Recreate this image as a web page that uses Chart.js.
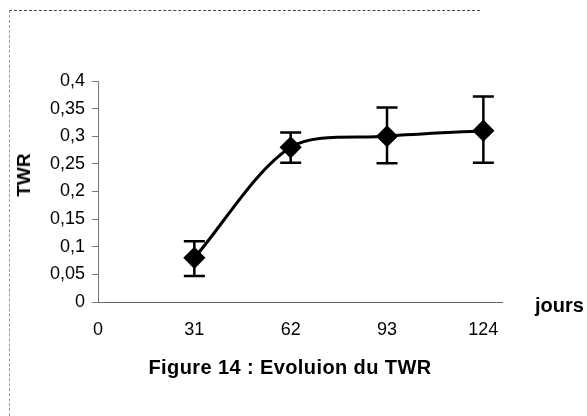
<!DOCTYPE html>
<html><head><meta charset="utf-8">
<script src="https://cdn.jsdelivr.net/npm/chart.js@4"></script>
<style>
html,body{margin:0;padding:0;background:#fff;}
#wrap{position:relative;width:587px;height:416px;overflow:hidden;font-family:"Liberation Sans",Arial,sans-serif;color:#000;}
#frame{position:absolute;left:9px;top:10px;width:470px;height:420px;border-top:1px dashed #444;border-left:1px dashed #999;}
canvas{position:absolute;left:0;top:0;}
#jours{position:absolute;left:535px;top:294px;font-weight:bold;font-size:20px;}
#caption{position:absolute;left:0;width:580px;text-align:center;top:356px;font-weight:bold;font-size:20px;letter-spacing:0.4px;}
#ytitle{position:absolute;left:24px;top:175px;transform:translate(-50%,-50%) rotate(-90deg);font-weight:bold;font-size:19px;white-space:nowrap;}
</style></head>
<body>
<div id="wrap">
<div id="frame"></div>
<canvas id="c" width="587" height="416"></canvas>
<div id="ytitle">TWR</div>
<div id="jours">jours</div>
<div id="caption">Figure 14 : Evoluion du TWR</div>
</div>
<script>
const days = [31, 62, 93, 124];
const twr = [0.08, 0.28, 0.30, 0.31];
const errLow = [0.047, 0.252, 0.251, 0.252];
const errHigh = [0.110, 0.307, 0.352, 0.372];
const xTicks = [0, 31, 62, 93, 124];
const yTicks = [0, 0.05, 0.1, 0.15, 0.2, 0.25, 0.3, 0.35, 0.4];

Chart.defaults.font.family = "'Liberation Sans', Arial, sans-serif";
Chart.defaults.font.size = 18;
Chart.defaults.color = '#000';

const errorBars = {
  id: 'errorBars',
  afterDatasetsDraw(chart) {
    const ctx = chart.ctx, xs = chart.scales.x, ys = chart.scales.y;
    ctx.save();
    ctx.strokeStyle = '#000';
    ctx.lineWidth = 2.5;
    const cap = 10.5;
    days.forEach((d, i) => {
      const px = xs.getPixelForValue(d);
      const top = ys.getPixelForValue(errHigh[i]);
      const bot = ys.getPixelForValue(errLow[i]);
      ctx.beginPath();
      ctx.moveTo(px, top); ctx.lineTo(px, bot);
      ctx.moveTo(px - cap, top); ctx.lineTo(px + cap, top);
      ctx.moveTo(px - cap, bot); ctx.lineTo(px + cap, bot);
      ctx.stroke();
    });
    ctx.restore();
  }
};

new Chart(document.getElementById('c'), {
  type: 'line',
  data: {
    datasets: [{
      data: days.map((d, i) => ({x: d, y: twr[i]})),
      borderColor: '#000',
      backgroundColor: '#000',
      borderWidth: 3,
      tension: 0.3,
      pointStyle: 'rectRot',
      pointRadius: 9,
      pointBackgroundColor: '#000',
      pointBorderColor: '#000',
      fill: false
    }]
  },
  options: {
    responsive: false,
    animation: false,
    layout: {padding: {top: 81, right: 85, left: 0, bottom: 0}},
    plugins: {legend: {display: false}, tooltip: {enabled: false}},
    scales: {
      x: {
        type: 'linear', min: 0, max: 130,
        afterFit(s) { s.height = 114; },
        afterBuildTicks(s) { s.ticks = xTicks.map(v => ({value: v})); },
        grid: {display: true, drawOnChartArea: false, drawTicks: false, color: '#777'},
        border: {display: true, color: '#666', dash: [4, 3], width: 1},
        ticks: {padding: 17, maxRotation: 0, autoSkip: false, callback: v => String(v)}
      },
      y: {
        type: 'linear', min: 0, max: 0.4,
        afterFit(s) { s.width = 98; },
        afterBuildTicks(s) { s.ticks = yTicks.map(v => ({value: v})); },
        grid: {display: true, drawOnChartArea: false, drawTicks: true, tickLength: 6, color: '#777'},
        border: {display: true, color: '#777', dash: [4, 3], width: 1},
        ticks: {padding: 7, autoSkip: false, callback: v => String(+v.toFixed(2)).replace('.', ',')}
      }
    }
  },
  plugins: [errorBars]
});
</script>
</body></html>
